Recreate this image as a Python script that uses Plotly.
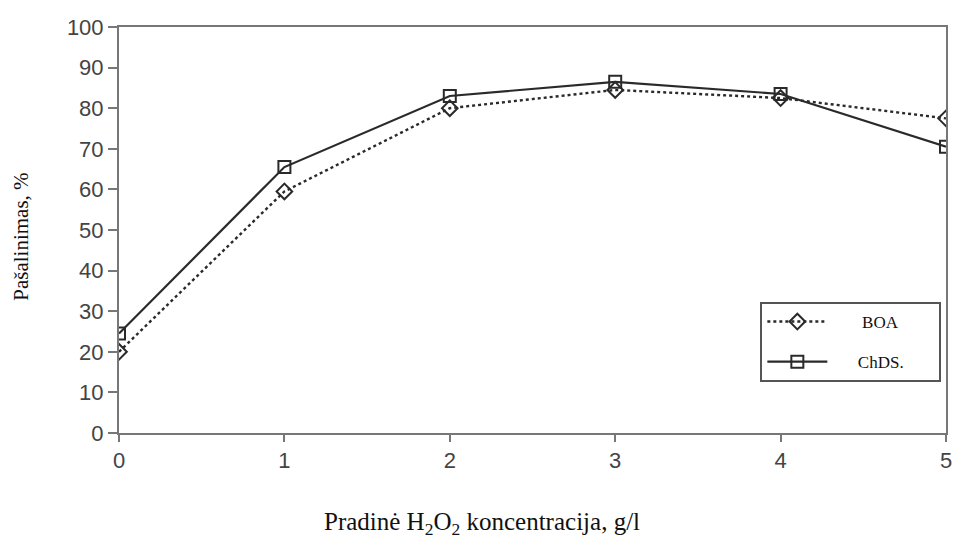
import plotly.graph_objects as go

x_vals = [0, 1, 2, 3, 4, 5]
boa = [20, 59.5, 80, 84.5, 82.5, 77.5]
chds = [24.5, 65.5, 83, 86.5, 83.5, 70.5]
y_ticks = [0, 10, 20, 30, 40, 50, 60, 70, 80, 90, 100]
series_names = ["BOA", "ChDS."]

pad_l = "\u00a0" * 7
pad_r = "\u00a0" * 7

fig = go.Figure()
fig.add_trace(go.Scatter(
    x=x_vals, y=boa, name=pad_l + series_names[0] + pad_r + "\u00a0", legendgroup="a", mode="lines+markers",
    line=dict(color="#2a2a2a", width=2.4, dash="dot"),
    marker=dict(symbol="diamond-open", size=12, color="#2a2a2a", line=dict(width=2, color="#2a2a2a")),
))
fig.add_trace(go.Scatter(
    x=x_vals, y=chds, name=pad_l[:-1] + series_names[1] + pad_r, legendgroup="b", mode="lines+markers",
    line=dict(color="#2a2a2a", width=2.2),
    marker=dict(symbol="square-open", size=12, color="#2a2a2a", line=dict(width=2, color="#2a2a2a")),
))

fig.update_layout(
    width=960, height=539,
    margin=dict(l=119, r=8, t=27, b=106),
    paper_bgcolor="white", plot_bgcolor="white",
    showlegend=True,
    legend=dict(
        x=(765 - 119) / 833, y=(433 - 302) / 406, xanchor="left", yanchor="top",
        bordercolor="#555", borderwidth=2, bgcolor="white",
        font=dict(family="Liberation Serif", size=17, color="#111"),
        itemwidth=60, tracegroupgap=15,
    ),
    xaxis=dict(
        range=[0, 5], tickvals=x_vals, showgrid=False, zeroline=False,
        showline=True, linecolor="#777", linewidth=2, mirror=True,
        ticks="outside", ticklen=7, tickwidth=2, tickcolor="#777",
        tickfont=dict(family="Liberation Sans", size=22, color="#444"),
    ),
    yaxis=dict(
        range=[0, 100], tickvals=y_ticks, showgrid=False, zeroline=False,
        showline=True, linecolor="#777", linewidth=2, mirror=True,
        ticks="outside", ticklen=9, tickwidth=2, tickcolor="#777",
        tickfont=dict(family="Liberation Sans", size=22, color="#444"),
    ),
    annotations=[
        dict(text="Pradinė H<sub>2</sub>O<sub>2</sub> koncentracija, g/l",
             xref="paper", yref="paper", x=(485 - 119) / 833, y=(433 - 523) / 406,
             xanchor="center", yanchor="middle", showarrow=False,
             font=dict(family="Liberation Serif", size=25, color="#111")),
        dict(text="Pašalinimas, %", textangle=-90,
             xref="paper", yref="paper", x=(20 - 119) / 833, y=(433 - 237) / 406,
             xanchor="center", yanchor="middle", showarrow=False,
             font=dict(family="Liberation Serif", size=21, color="#111")),
    ],
)

fig.write_html("out.html")
